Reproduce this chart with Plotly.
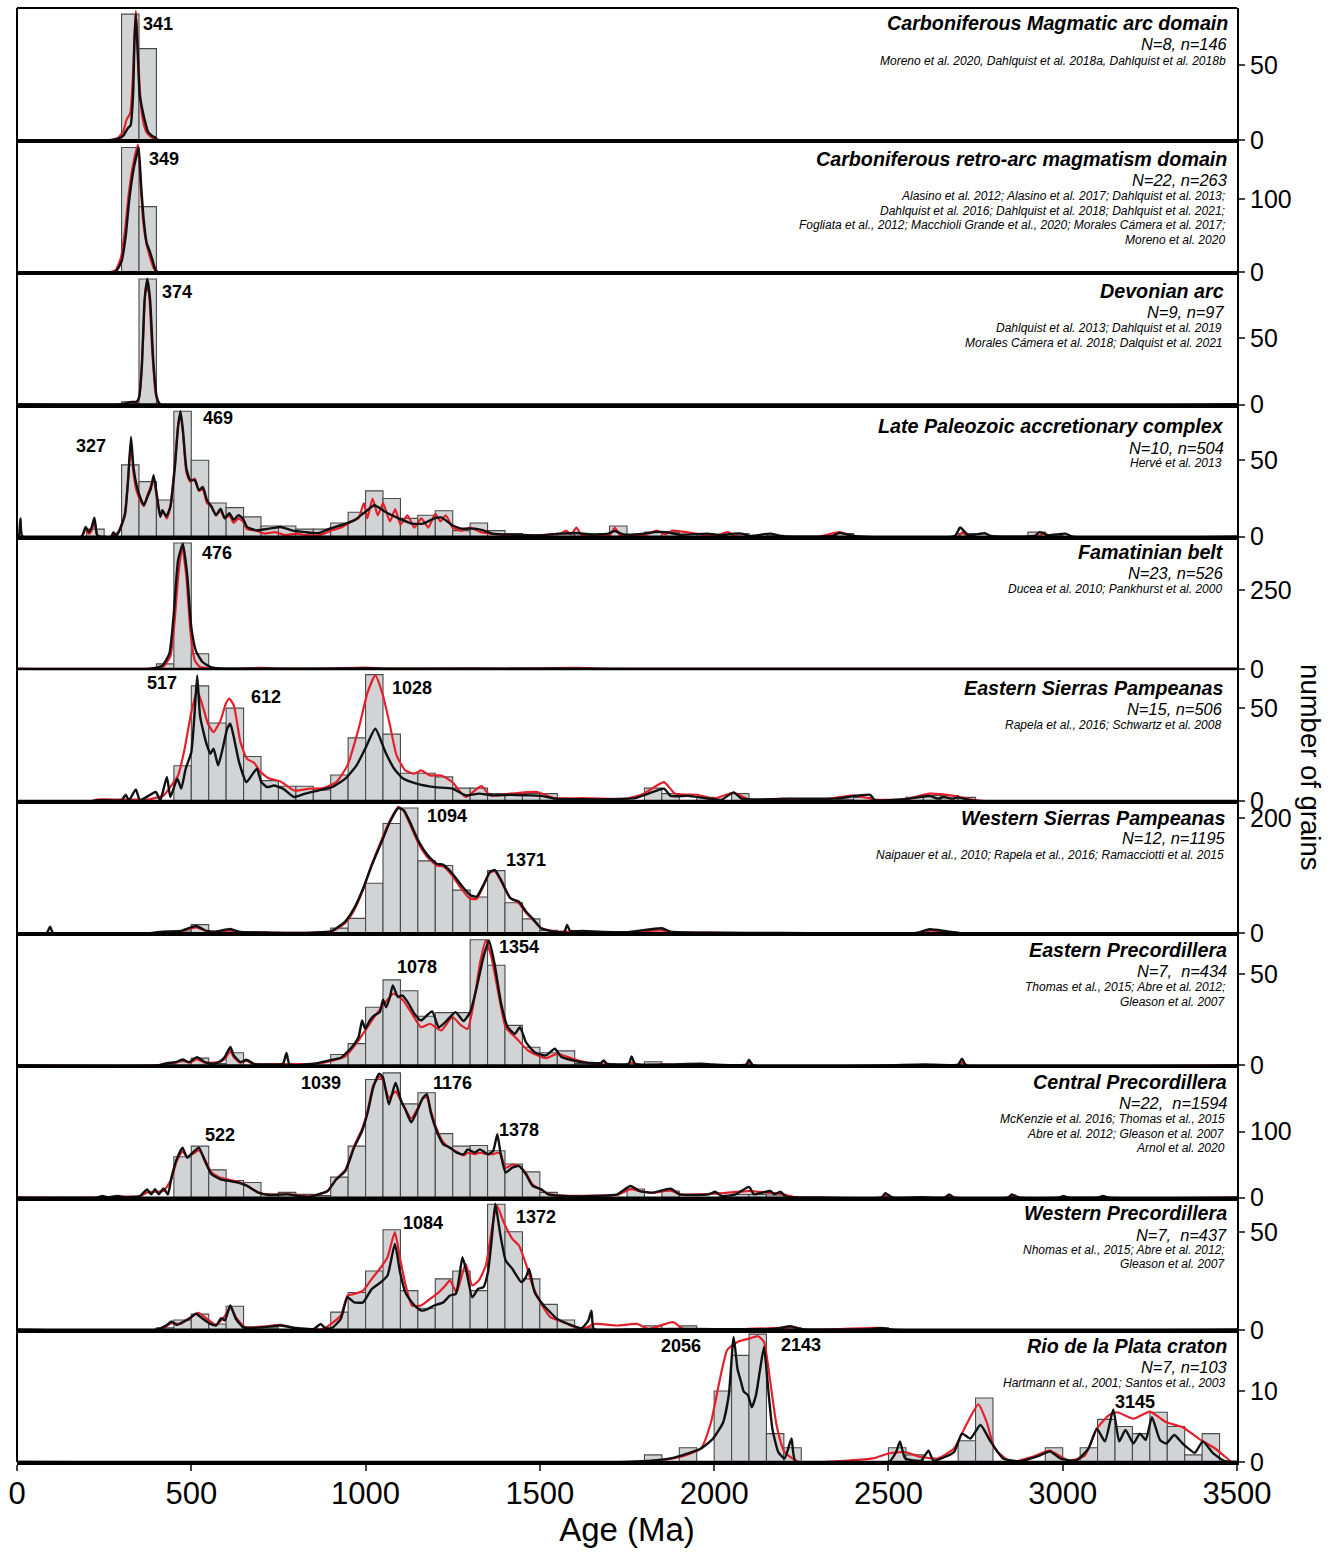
import plotly.graph_objects as go
from plotly.subplots import make_subplots

# ---------------- panel descriptions ----------------
TITLES = [
    "Carboniferous Magmatic arc domain",
    "Carboniferous retro-arc magmatism domain",
    "Devonian arc",
    "Late Paleozoic accretionary complex",
    "Famatinian belt",
    "Eastern Sierras Pampeanas",
    "Western Sierras Pampeanas",
    "Eastern Precordillera",
    "Central Precordillera",
    "Western Precordillera",
    "Rio de la Plata craton",
]
SAMPLE_COUNTS = [
    "N=8, n=146", "N=22, n=263", "N=9, n=97", "N=10, n=504", "N=23, n=526",
    "N=15, n=506", "N=12, n=1195", "N=7,  n=434", "N=22,  n=1594",
    "N=7,  n=437", "N=7, n=103",
]
REFERENCES = [
    ["Moreno et al. 2020, Dahlquist et al. 2018a, Dahlquist et al. 2018b"],
    ["Alasino et al. 2012; Alasino et al. 2017; Dahlquist et al. 2013;",
     "Dahlquist et al. 2016; Dahlquist et al. 2018; Dahlquist et al. 2021;",
     "Fogliata et al., 2012; Macchioli Grande et al., 2020; Morales Cámera et al. 2017;",
     "Moreno et al. 2020"],
    ["Dahlquist et al. 2013; Dahlquist et al. 2019",
     "Morales Cámera et al. 2018; Dalquist et al. 2021"],
    ["Hervé et al. 2013"],
    ["Ducea et al. 2010; Pankhurst et al. 2000"],
    ["Rapela et al., 2016; Schwartz et al. 2008"],
    ["Naipauer et al., 2010; Rapela et al., 2016; Ramacciotti et al. 2015"],
    ["Thomas et al., 2015; Abre et al. 2012;", "Gleason et al. 2007"],
    ["McKenzie et al. 2016; Thomas et al., 2015",
     "Abre et al. 2012; Gleason et al. 2007", "Arnol et al. 2020"],
    ["Nhomas et al., 2015; Abre et al. 2012;", "Gleason et al. 2007"],
    ["Hartmann et al., 2001; Santos et al., 2003"],
]
# labelled peak ages (Ma) per panel
PEAK_AGES = [
    [341], [349], [374], [327, 469], [476], [517, 612, 1028], [1094, 1371],
    [1078, 1354], [1039, 1176, 1378, 522], [1084, 1372], [2056, 2143, 3145],
]

# ---------------- histograms (bin start in Ma, 50 Ma bins) ----------------
BINS_1 = [300, 350]
COUNTS_1 = [84, 61]
BINS_2 = [300, 350]
COUNTS_2 = [171, 90]
BINS_3 = [300, 350]
COUNTS_3 = [2, 95]
BINS_4 = [200, 300, 350, 400, 450, 500, 550, 600, 650, 700, 750, 800, 850, 900,
          950, 1000, 1050, 1100, 1150, 1200, 1250, 1300, 1350, 1400, 1550, 1600,
          1700, 1800, 1850, 1950, 2050, 2150, 2350, 2700, 2900, 2950]
COUNTS_4 = [5, 47, 36, 24, 82, 50, 22, 19, 13, 7, 7, 5, 5, 9,
            16, 30, 25, 12, 14, 17, 4, 9, 4, 2, 2, 2,
            7, 3, 3, 2, 2, 1, 2, 2, 3, 1]
BINS_5 = [400, 450, 500]
COUNTS_5 = [16, 398, 48]
BINS_6 = [450, 500, 550, 600, 650, 700, 750, 800, 850, 900, 950, 1000, 1050, 1100,
          1150, 1200, 1250, 1300, 1350, 1400, 1450, 1500, 1800, 1850, 1950, 2050,
          2150, 2200, 2250, 2350, 2400, 2550, 2600, 2650, 2700]
COUNTS_6 = [19, 62, 42, 50, 24, 11, 8, 8, 6, 14, 34, 68, 36, 15,
            15, 13, 7, 7, 4, 4, 4, 4, 7, 4, 2, 4,
            1, 1, 1, 1, 2, 2, 3, 3, 2]
BINS_7 = [450, 500, 600, 900, 950, 1000, 1050, 1100, 1150, 1200, 1250, 1300, 1350,
          1400, 1450, 1500, 1550, 1850, 2600]
COUNTS_7 = [4, 15, 2, 9, 26, 87, 191, 218, 126, 118, 75, 63, 109,
            53, 25, 5, 2, 2, 2]
BINS_8 = [450, 500, 550, 600, 900, 950, 1000, 1050, 1100, 1150, 1200, 1250, 1300,
          1350, 1400, 1450, 1500, 1550, 1600, 1800]
COUNTS_8 = [2, 4, 1, 7, 6, 12, 32, 47, 41, 27, 29, 29, 69,
            55, 22, 10, 7, 8, 1, 2]
BINS_9 = [450, 500, 550, 600, 650, 700, 750, 800, 850, 900, 950, 1000, 1050, 1100,
          1150, 1200, 1250, 1300, 1350, 1400, 1450, 1500, 1550, 1750, 1850, 2050,
          2100, 2150]
COUNTS_9 = [62, 78, 42, 26, 23, 5, 8, 5, 3, 31, 78, 179, 189, 142,
            159, 97, 78, 79, 71, 51, 39, 8, 3, 13, 10, 5,
            5, 4]
BINS_10 = [400, 450, 500, 550, 600, 650, 700, 900, 950, 1000, 1050, 1100, 1150,
           1200, 1250, 1300, 1350, 1400, 1450, 1500, 1550, 1600, 1800, 1900, 2200, 2450]
COUNTS_10 = [1, 5, 8, 3, 12, 1, 1, 9, 19, 30, 51, 20, 11,
             26, 30, 20, 64, 50, 26, 13, 5, 1, 2, 2, 1, 1]
BINS_11 = [1800, 1900, 2000, 2050, 2100, 2150, 2200, 2500, 2550, 2700, 2750, 2950,
           3050, 3100, 3150, 3200, 3250, 3300, 3350, 3400]
COUNTS_11 = [1, 2, 10, 15, 18, 4, 2, 2, 1, 3, 9, 2,
             2, 6, 5, 4, 7, 5, 1, 4]

# ---------------- density curves: (age Ma, scaled density) ----------------
BLACK_1 = [(0, 0), (270, 0), (290, 1), (305, 3), (318, 8), (326, 10), (333, 30), (337, 66),
           (341, 84), (346, 60), (352, 30), (360, 20), (368, 12), (375, 6), (382, 4),
           (390, 2.5), (396, 2), (402, 0.5), (410, 0), (3500, 0)]
RED_1 = [(0, 0), (260, 0), (290, 1.5), (305, 6), (315, 14), (325, 18), (333, 45), (338, 75),
         (341, 86), (346, 65), (352, 35), (360, 15), (370, 6), (380, 3), (392, 1), (405, 0),
         (3500, 0)]
BLACK_2 = [(0, 0), (270, 0), (285, 2), (300, 15), (312, 50), (322, 99), (334, 140), (343, 160),
           (349, 171), (356, 120), (364, 70), (372, 40), (380, 30), (388, 18), (396, 5),
           (405, 0), (3500, 0)]
RED_2 = [(0, 0), (265, 0), (283, 3), (298, 20), (310, 58), (320, 105), (332, 145), (341, 165),
         (347, 175), (354, 125), (362, 70), (372, 38), (382, 20), (392, 6), (402, 0), (3500, 0)]
BLACK_3 = [(0, 0), (300, 0), (318, 1.5), (330, 2), (342, 2), (350, 5), (358, 28), (366, 79),
           (374, 95), (382, 79), (391, 33), (401, 5.5), (412, 0), (3500, 0)]
RED_3 = [(0, 0), (340, 0), (352, 8), (362, 50), (370, 90), (378, 85), (388, 40), (398, 8),
         (410, 0), (3500, 0)]
BLACK_4 = [(0, 0), (5, 0), (10, 12), (16, 0), (185, 0), (197, 6.4), (206, 3), (214, 6),
           (222, 12.5), (230, 1), (240, 0), (270, 0), (277, 3), (284, 0.5), (292, 3),
           (300, 7.5), (310, 14.7), (318, 34.7), (327, 65.3), (334, 45.6), (343, 33.6),
           (353, 26), (364, 20.6), (374, 26), (384, 31.5), (392, 40.2), (402, 26), (411, 13),
           (417, 17.4), (428, 13.4), (440, 19.5), (453, 45.6), (462, 71.8), (469, 82),
           (476, 69.6), (486, 44.6), (497, 37), (510, 37), (522, 30.4), (533, 32.6),
           (545, 23.9), (558, 19.5), (571, 14), (584, 18.4), (596, 12), (609, 15.3), (622, 11),
           (635, 14), (648, 12), (660, 6.4), (686, 4.2), (724, 5.3), (756, 6.4), (788, 4.2),
           (827, 3), (865, 2.4), (897, 5.3), (929, 7.5), (967, 10.7), (999, 16.2),
           (1025, 20.6), (1057, 16.2), (1095, 12), (1133, 8.6), (1165, 8.6), (1197, 12),
           (1217, 12.6), (1249, 7.5), (1274, 5.3), (1313, 5.3), (1338, 4.2), (1364, 2),
           (1428, 1.3), (1492, 0.9), (1556, 2), (1607, 2.4), (1645, 1.5), (1696, 2),
           (1715, 3.7), (1741, 1.5), (1798, 2), (1830, 3), (1862, 3), (1901, 1.3), (1980, 2),
           (2021, 1), (2056, 2), (2079, 2), (2103, 0.5), (2161, 2), (2196, 0.3), (2340, 0.5),
           (2360, 2.5), (2407, 0.3), (2690, 0.5), (2706, 6), (2729, 1), (2776, 2.3),
           (2794, 0.5), (2920, 0.5), (2934, 3), (2958, 1), (3008, 2), (3028, 0), (3500, 0)]
RED_4 = [(0, 0), (185, 0), (197, 5), (206, 2), (214, 4), (222, 10), (232, 0), (270, 0),
         (290, 3), (300, 8), (310, 16), (318, 36), (327, 60), (334, 42), (343, 30), (353, 24),
         (364, 20), (374, 27), (384, 33), (392, 38), (402, 24), (411, 14), (420, 16),
         (430, 12), (440, 20), (453, 48), (462, 72), (469, 80), (476, 68), (486, 42),
         (497, 36), (510, 38), (522, 30), (533, 31), (545, 22), (558, 20), (571, 14),
         (584, 17), (596, 12), (609, 14), (622, 9), (635, 12), (648, 10), (660, 5), (686, 4),
         (710, 2), (740, 3), (770, 1), (800, 2), (830, 1), (870, 1), (900, 4), (930, 6),
         (960, 10), (980, 12), (995, 22), (1005, 12), (1020, 25), (1035, 14), (1050, 22),
         (1070, 10), (1085, 18), (1100, 8), (1120, 14), (1140, 6), (1160, 12), (1180, 6),
         (1200, 15), (1215, 10), (1230, 14), (1250, 6), (1275, 4), (1300, 6), (1330, 3),
         (1360, 2), (1400, 1), (1450, 0.5), (1500, 1), (1560, 2), (1575, 4), (1590, 1.5),
         (1605, 6), (1620, 1), (1700, 1), (1715, 6), (1730, 1), (1800, 1), (1835, 4),
         (1860, 1.5), (1880, 4), (2000, 0.5), (2040, 3), (2060, 0.5), (2300, 0), (2360, 3),
         (2400, 0), (2700, 0), (2712, 3), (2730, 0), (2930, 0), (2945, 2.5), (2960, 0),
         (3500, 0)]
BLACK_5 = [(0, 0), (379, 0), (417, 11), (437, 48), (449, 164), (462, 343), (476, 396),
           (488, 301), (500, 132), (513, 58), (533, 21), (558, 5), (596, 1), (700, 0.5),
           (1000, 1.5), (1100, 0.5), (1500, 0.5), (2000, 0), (3500, 0)]
RED_5 = [(0, 0), (300, 0), (400, 2), (420, 8), (440, 40), (452, 150), (463, 300), (474, 388),
         (486, 290), (498, 112), (510, 27), (525, 6), (560, 2), (620, 0.5), (700, 3),
         (760, 0.5), (900, 1), (1000, 4), (1060, 0.5), (1300, 2), (1400, 0.5), (1600, 3),
         (1700, 0.5), (2000, 0), (3500, 0)]
BLACK_6 = [(0, 0), (215, 0), (232, 0.5), (300, 0.5), (312, 3.4), (321, 0.4), (341, 6.3),
           (353, 0.4), (398, 4.9), (411, 0.4), (430, 13), (440, 2.2), (460, 12.1), (471, 6.7),
           (484, 17.4), (500, 26.3), (509, 46), (517, 67.6), (525, 46), (535, 37.1),
           (545, 30), (555, 25.5), (564, 28.2), (577, 19.2), (590, 28.2), (603, 38.9),
           (612, 41.6), (622, 34.4), (637, 21), (658, 10.2), (673, 13.8), (688, 17.4),
           (701, 10.2), (718, 7.5), (737, 8.4), (763, 6.7), (795, 2.2), (827, 4), (865, 5.7),
           (903, 7.5), (942, 12.1), (974, 19.2), (999, 28.2), (1028, 38.9), (1057, 26.3),
           (1082, 17.4), (1108, 12.1), (1146, 9.4), (1198, 7.5), (1249, 6.7), (1287, 3.1),
           (1325, 4), (1364, 3.1), (1415, 3.4), (1466, 3.1), (1504, 2.8), (1543, 1.3),
           (1620, 1), (1696, 1), (1773, 1.6), (1811, 4), (1856, 6.7), (1875, 2.8),
           (1926, 2.8), (1974, 1.6), (2021, 0.7), (2056, 4.7), (2079, 1.3), (2173, 1),
           (2214, 1.3), (2348, 1.3), (2448, 3.4), (2460, 0.5), (2547, 1), (2618, 2.7),
           (2641, 1.3), (2659, 2.2), (2682, 1.3), (2700, 2), (2735, 0.5), (2758, 0), (3500, 0)]
RED_6 = [(0, 0), (215, 0), (230, 0.8), (300, 0.8), (380, 1), (420, 3), (443, 8.4),
         (462, 13.8), (481, 28.2), (500, 47.8), (517, 59.5), (532, 51.5), (548, 41.6),
         (564, 37.1), (584, 43.4), (599, 52.4), (609, 55.1), (622, 51.5), (641, 31.7),
         (660, 22.7), (680, 20.6), (699, 15.6), (724, 12.1), (756, 10.6), (795, 5.7),
         (839, 6.7), (878, 7), (916, 10.2), (948, 19.2), (980, 38.9), (1006, 58.6),
         (1028, 67.6), (1050, 56.8), (1070, 40.7), (1089, 24.6), (1114, 16.5), (1140, 14.7),
         (1159, 16.5), (1185, 13.8), (1217, 13.8), (1249, 10.2), (1287, 2.2), (1332, 8),
         (1357, 3.1), (1415, 4), (1492, 4.9), (1543, 1.6), (1620, 1.6), (1747, 1.3),
         (1798, 4), (1856, 10.2), (1888, 4), (1952, 3.4), (1997, 1.3), (2056, 4.4),
         (2103, 0.7), (2196, 1.3), (2300, 0.5), (2401, 3.1), (2465, 0.7), (2550, 1),
         (2618, 4), (2688, 2.8), (2747, 0.5), (2780, 0), (3500, 0)]
BLACK_7 = [(0, 0), (85, 0), (95, 11.6), (104, 0), (380, 0), (417, 2.9), (469, 3.9),
           (513, 12.7), (545, 3.9), (571, 2.9), (612, 7.5), (635, 2.9), (724, 1.2), (852, 1.2),
           (903, 3.9), (942, 20.8), (967, 43.2), (993, 78), (1018, 118.8), (1044, 156),
           (1070, 194), (1094, 218), (1110, 214), (1127, 194), (1153, 159), (1178, 136),
           (1204, 121), (1223, 119), (1249, 104), (1274, 84), (1300, 66.7), (1319, 63.8),
           (1338, 84), (1357, 107), (1371, 110), (1389, 92.4), (1415, 61), (1440, 55),
           (1460, 38), (1479, 26), (1504, 8.7), (1543, 2.9), (1570, 2), (1578, 14.5),
           (1587, 4), (1620, 4), (1747, 1.7), (1850, 8.7), (1875, 2.9), (2000, 1), (2200, 0.5),
           (2580, 0.5), (2618, 7), (2665, 3.5), (2712, 0), (3500, 0)]
RED_7 = [(0, 0), (380, 0), (417, 2), (469, 3), (513, 10), (545, 3.5), (571, 2.5), (612, 5),
         (635, 2.5), (724, 1), (852, 1), (903, 3), (942, 18), (967, 40), (993, 76),
         (1018, 120), (1044, 160), (1070, 196), (1094, 220), (1110, 212), (1127, 190),
         (1153, 155), (1178, 132), (1204, 118), (1223, 116), (1249, 100), (1274, 78),
         (1300, 60), (1319, 60), (1338, 82), (1357, 106), (1371, 108), (1389, 90), (1415, 62),
         (1440, 52), (1460, 36), (1479, 24), (1504, 9), (1543, 3), (1587, 3), (1620, 2.5),
         (1747, 1.5), (1850, 5), (1875, 2), (2000, 1), (2580, 0.5), (2618, 5), (2665, 3),
         (2712, 0), (3500, 0)]
BLACK_8 = [(0, 0), (405, 0), (430, 1.3), (456, 1.8), (475, 3.3), (494, 1.8), (516, 4.6),
           (539, 1.8), (564, 0.9), (584, 2.4), (596, 4.6), (612, 10.1), (622, 5.5), (641, 1.8),
           (658, 3.1), (680, 0.9), (724, 0.5), (763, 0.9), (773, 6.8), (782, 0.5), (852, 0.9),
           (903, 3.1), (929, 4.2), (942, 6.4), (961, 10.1), (980, 15.6), (990, 24.7),
           (999, 20.1), (1012, 24.7), (1025, 27.5), (1041, 29.3), (1050, 36.1), (1059, 32),
           (1070, 37.6), (1078, 44), (1093, 37.6), (1105, 38.5), (1121, 34.8), (1140, 28.4),
           (1159, 24.7), (1176, 27.5), (1191, 29.7), (1210, 21), (1229, 23.8), (1258, 29.3),
           (1281, 24.4), (1300, 29.3), (1319, 43), (1338, 59.5), (1354, 68.7), (1370, 55.9),
           (1389, 33.9), (1408, 21), (1428, 17.4), (1443, 21), (1460, 12.8), (1485, 7.3),
           (1517, 5.5), (1543, 9.2), (1562, 4.6), (1620, 1.8), (1675, 1.3), (1683, 2.7),
           (1692, 1), (1755, 1), (1763, 5), (1773, 0.9), (1850, 0.5), (1962, 0.9),
           (1997, 0.5), (2092, 0.5), (2100, 3.1), (2112, 0), (2606, 0.5), (2700, 0.5),
           (2711, 3.7), (2723, 0), (3500, 0)]
RED_8 = [(0, 0), (400, 0), (430, 1), (456, 1.5), (475, 2.8), (494, 1.5), (516, 3.5),
         (539, 1.5), (584, 2), (596, 3.5), (612, 8), (622, 4.5), (641, 1.5), (658, 2.5),
         (680, 0.8), (763, 0.8), (852, 0.8), (903, 2.5), (942, 5), (980, 13.8), (999, 19.2),
         (1025, 26.6), (1057, 34.8), (1080, 39.4), (1108, 35.7), (1133, 28.4), (1159, 21),
         (1185, 22.9), (1217, 19.2), (1249, 26.6), (1274, 22), (1293, 20.1), (1313, 37.6),
         (1328, 55.9), (1345, 68.7), (1361, 59.5), (1383, 37.6), (1402, 21), (1434, 14.7),
         (1466, 8.2), (1517, 4), (1549, 6.4), (1594, 3.7), (1650, 1), (1750, 0.5), (1763, 1.5),
         (1780, 0.3), (1850, 0.5), (2000, 0), (2088, 0), (2100, 1.5), (2115, 0), (2698, 0),
         (2711, 1.5), (2725, 0), (3500, 0)]
BLACK_9 = [(0, 0), (230, 0), (245, 2.5), (260, 0.5), (289, 2.5), (310, 0.5), (353, 2.5),
           (373, 12.6), (385, 5), (396, 12.6), (407, 5), (420, 14), (433, 5), (443, 30.3),
           (458, 58), (475, 75.8), (488, 60.6), (504, 68.2), (522, 75.8), (539, 55.6),
           (558, 35.4), (584, 27.8), (609, 25.3), (635, 22.7), (660, 17.7), (692, 7.6),
           (724, 4), (775, 5), (833, 1), (865, 5), (891, 10), (916, 27.8), (942, 40.4),
           (967, 75.8), (990, 101), (1006, 129), (1022, 167), (1039, 188), (1050, 182),
           (1067, 141.4), (1086, 174), (1102, 146.5), (1114, 134), (1131, 114), (1146, 129),
           (1165, 151.5), (1176, 156.6), (1187, 129), (1204, 101), (1223, 80.8), (1242, 75.8),
           (1261, 68.2), (1281, 65.6), (1293, 73.2), (1313, 68.2), (1328, 73.2), (1351, 65.6),
           (1366, 70.7), (1378, 96), (1387, 68.2), (1402, 37.9), (1421, 45.5), (1440, 48),
           (1460, 35.4), (1479, 17.7), (1504, 12.6), (1524, 5), (1568, 2.5), (1658, 2.5),
           (1722, 5), (1760, 17.7), (1786, 10), (1824, 7.6), (1875, 13.6), (1901, 5),
           (1985, 5), (2003, 9), (2021, 2.5), (2062, 5), (2100, 16.2), (2114, 5), (2138, 7.6),
           (2161, 10), (2173, 5), (2190, 9), (2208, 1), (2313, 0), (2480, 0), (2491, 6.6),
           (2512, 0), (2594, 0.5), (2662, 0), (2674, 5), (2688, 0), (2845, 0), (2854, 5),
           (2875, 0), (2990, 0), (3002, 2.5), (3015, 0), (3102, 0), (3115, 2.5), (3130, 0),
           (3500, 0)]
RED_9 = [(0, 0), (230, 0), (289, 1.5), (353, 2), (373, 8), (396, 9), (420, 10), (443, 28),
         (458, 55), (475, 70), (488, 62), (504, 66), (522, 72), (539, 58), (558, 38),
         (584, 30), (609, 27), (635, 24), (660, 18), (692, 8), (724, 4.5), (775, 5.5),
         (833, 2), (865, 5), (891, 10), (916, 28), (942, 42), (967, 78), (990, 104),
         (1006, 132), (1022, 170), (1039, 183), (1050, 178), (1067, 151), (1086, 161),
         (1102, 146), (1114, 134), (1131, 120), (1146, 132), (1165, 151), (1176, 152),
         (1187, 132), (1204, 104), (1223, 84), (1242, 75), (1261, 70), (1281, 64), (1293, 68),
         (1313, 66), (1328, 68), (1351, 66), (1366, 66), (1378, 68), (1387, 66), (1402, 45),
         (1421, 50), (1440, 48), (1460, 37), (1479, 20), (1504, 12), (1524, 6), (1568, 3),
         (1658, 3), (1722, 4), (1760, 13), (1786, 10), (1824, 7), (1875, 11), (1901, 5),
         (2003, 6), (2100, 10), (2161, 7), (2190, 6), (2230, 1), (2300, 0), (2478, 0),
         (2491, 3), (2505, 0), (2660, 0), (2674, 3), (2690, 0), (2840, 0), (2854, 3),
         (2870, 0), (2988, 0), (3002, 2), (3016, 0), (3100, 0), (3115, 2), (3130, 0), (3500, 0)]
BLACK_10 = [(0, 0), (398, 0), (428, 2.2), (443, 4.3), (458, 2.5), (475, 3.9), (494, 5.6),
            (513, 8.2), (533, 5.6), (555, 3), (571, 2.2), (586, 5.9), (596, 4.7), (612, 12.4),
            (628, 5.6), (648, 1.4), (673, 0.9), (711, 1.4), (756, 2.2), (801, 0.9), (852, 0.5),
            (871, 3), (884, 0.9), (903, 0.9), (929, 5.6), (948, 16.6), (967, 14), (993, 14),
            (1018, 20.9), (1044, 24.3), (1063, 27.7), (1084, 43.8), (1099, 29.3), (1114, 19.1),
            (1133, 14), (1146, 11.5), (1161, 9.8), (1178, 10.6), (1197, 12.4), (1223, 14),
            (1242, 17.5), (1259, 18.3), (1268, 26), (1278, 37), (1290, 29.3), (1306, 16.6),
            (1323, 20.9), (1338, 21.8), (1351, 29.3), (1362, 46.4), (1372, 64.3), (1387, 48.1),
            (1402, 35.4), (1421, 31.1), (1447, 24.3), (1460, 26.9), (1469, 31.1), (1485, 19.1),
            (1511, 12.4), (1530, 8.9), (1549, 5.6), (1581, 3), (1620, 0.9), (1639, 4.7),
            (1648, 9.8), (1655, 0.5), (1747, 0.2), (1875, 0.5), (2000, 0.3), (2173, 0.5),
            (2220, 1.8), (2249, 0.3), (2448, 0.3), (2480, 1), (2512, 0), (3500, 0)]
RED_10 = [(0, 0), (400, 0), (417, 0.5), (443, 3.4), (469, 3), (494, 5.9), (520, 8.7),
          (545, 5.6), (571, 2.5), (596, 7), (612, 11.5), (628, 6.5), (654, 1.4), (711, 1.7),
          (756, 2.5), (801, 0.5), (878, 0.5), (929, 7.3), (948, 17.5), (967, 18.3), (993, 20),
          (1018, 26), (1044, 31.9), (1063, 37), (1084, 49.8), (1099, 36.2), (1114, 23.5),
          (1133, 12.4), (1159, 12.4), (1185, 15.8), (1210, 19.1), (1229, 22.6), (1242, 25.2),
          (1261, 19.1), (1287, 33.6), (1306, 22.6), (1325, 25.2), (1345, 32.8), (1364, 53.2),
          (1377, 63.4), (1396, 54.9), (1421, 46.4), (1440, 43), (1460, 33.6), (1479, 22.6),
          (1504, 13.3), (1530, 6.5), (1568, 3.9), (1620, 0.2), (1658, 3), (1722, 2.2),
          (1779, 3), (1811, 0.5), (1882, 3.9), (1914, 0.3), (2190, 1), (2230, 1.3), (2260, 0),
          (2470, 1), (2510, 0), (3500, 0)]
BLACK_11 = [(0, 0), (1747, 0), (1875, 0.5), (1962, 1.9), (1997, 3.3), (2026, 5.6), (2042, 9.4),
            (2056, 17.6), (2067, 13.1), (2077, 11.3), (2085, 9.9), (2097, 9.4), (2108, 7.7),
            (2120, 9.4), (2132, 13.1), (2143, 16.2), (2155, 10.3), (2167, 4.7), (2184, 1.4),
            (2202, 0.5), (2222, 3.3), (2234, 0), (2501, 0), (2522, 1.4), (2533, 2.9),
            (2548, 0.5), (2594, 0.2), (2615, 1.6), (2629, 0.2), (2688, 1.4), (2711, 4),
            (2735, 3.3), (2764, 5.2), (2793, 2.9), (2829, 0.5), (2875, 0.1), (2934, 0.9),
            (2963, 1.5), (2993, 0.5), (3039, 0.2), (3074, 1.9), (3098, 4.7), (3121, 2.9),
            (3145, 7.4), (3162, 2.9), (3180, 4.5), (3203, 2.6), (3221, 4), (3238, 3.1),
            (3256, 6.3), (3279, 3.1), (3297, 2.6), (3320, 3.8), (3344, 2.6), (3379, 1.3),
            (3402, 2.9), (3432, 1.2), (3461, 0.2), (3478, 0), (3500, 0)]
RED_11 = [(0, 0), (1747, 0), (1837, 0.2), (1901, 0.7), (1962, 1.9), (1991, 5.6), (2015, 11.3),
          (2038, 15.8), (2067, 16.9), (2103, 17.4), (2126, 17.7), (2143, 16.9), (2161, 11.3),
          (2179, 5.2), (2202, 1.4), (2243, 0), (2313, 0), (2454, 0.5), (2501, 1.2),
          (2548, 1.4), (2594, 0.7), (2641, 0.5), (2688, 1.9), (2723, 5.2), (2758, 8.1),
          (2782, 5.6), (2805, 1.9), (2852, 0), (2911, 0.7), (2963, 1.6), (3016, 0.2),
          (3063, 0.9), (3098, 4.7), (3133, 6.6), (3156, 7), (3203, 6.1), (3250, 7.1),
          (3297, 5.6), (3344, 4.9), (3390, 3.3), (3437, 1.9), (3472, 0.5), (3484, 0), (3500, 0)]

BINS = [BINS_1, BINS_2, BINS_3, BINS_4, BINS_5, BINS_6, BINS_7, BINS_8, BINS_9, BINS_10, BINS_11]
COUNTS = [COUNTS_1, COUNTS_2, COUNTS_3, COUNTS_4, COUNTS_5, COUNTS_6, COUNTS_7, COUNTS_8,
          COUNTS_9, COUNTS_10, COUNTS_11]
BLACK = [BLACK_1, BLACK_2, BLACK_3, BLACK_4, BLACK_5, BLACK_6, BLACK_7, BLACK_8, BLACK_9,
         BLACK_10, BLACK_11]
RED = [RED_1, RED_2, RED_3, RED_4, RED_5, RED_6, RED_7, RED_8, RED_9, RED_10, RED_11]

# ---------------- axis scales and layout settings ----------------
Y_MAX = [88.1, 181, 100, 86.4, 418, 71.1, 230, 72.6, 200.3, 67.4, 18.6]
Y_TICK = [50, 100, 50, 50, 250, 50, 200, 50, 100, 50, 10]
AGE_TICKS = [0, 500, 1000, 1500, 2000, 2500, 3000, 3500]

# pixel offsets of text blocks from the panel top: title, N/n line, first ref line
TEXT_OFFSETS = [(15, 36, 53), (19, 40, 56), (19, 40, 56), (21, 43, 58), (15, 36, 52),
                (19, 40, 56), (17, 37, 54), (17, 38, 54), (17, 38, 54), (15, 37, 52),
                (16, 37, 53)]
TEXT_RIGHT = [1230, 1229, 1226, 1226, 1226, 1225, 1228, 1229, 1229, 1229, 1229]
REF_LINE_GAP = 14.5
# peak label placement (age, density) in each panel
LABEL_XY = [
    [(405, 77.5)], [(422, 155)], [(458, 85.4)], [(211, 59.2), (577, 77.3)], [(575, 365)],
    [(416, 63.4), (713, 55.9), (1134, 60.8)], [(1233, 203.6), (1461, 127.5)],
    [(1147, 54.2), (1440, 65)], [(873, 173.5), (1249, 173.5), (1440, 102), (582, 95.5)],
    [(1165, 54.5), (1488, 57.4)], [(1905, 16.3), (2249, 16.5), (3206, 8.4)],
]

FONT = "Liberation Sans, Arial, Helvetica, sans-serif"
BAR_FILL = "#d2d3d5"
BAR_EDGE = "#4a4a4a"
RED_COLOR = "#e3202c"
BLACK_COLOR = "#111111"

W, H = 1341, 1553
ML, MR, MT, MB = 15, 104, 8, 91
NPANEL = len(TITLES)

fig = make_subplots(rows=NPANEL, cols=1, shared_xaxes=True, vertical_spacing=0)

for i in range(NPANEL):
    r = i + 1
    fig.add_trace(go.Bar(x=BINS[i], y=COUNTS[i], width=50, offset=0,
                         marker=dict(color=BAR_FILL, line=dict(color=BAR_EDGE, width=1.1)),
                         showlegend=False, hoverinfo="skip"), row=r, col=1)
    rx, ry = zip(*RED[i])
    fig.add_trace(go.Scatter(x=rx, y=ry, mode="lines",
                             line=dict(color=RED_COLOR, width=2.2, shape="spline", smoothing=0.5),
                             showlegend=False, hoverinfo="skip"), row=r, col=1)
    bx, by = zip(*BLACK[i])
    fig.add_trace(go.Scatter(x=bx, y=by, mode="lines",
                             line=dict(color=BLACK_COLOR, width=2.4, shape="spline", smoothing=0.5),
                             showlegend=False, hoverinfo="skip"), row=r, col=1)

    last = (r == NPANEL)
    fig.update_xaxes(range=[0, 3500], showgrid=False, zeroline=False,
                     showline=True, linecolor="black", linewidth=2.5,
                     ticks="outside" if last else "", ticklen=6, tickwidth=1.5,
                     tickvals=AGE_TICKS, showticklabels=last,
                     tickfont=dict(family=FONT, size=31, color="black"),
                     row=r, col=1)
    fig.update_yaxes(range=[0, Y_MAX[i]], side="right", showgrid=False, zeroline=False,
                     showline=True, linecolor="black", linewidth=2,
                     ticks="outside", ticklen=6, tickwidth=1.5,
                     tickvals=[0, Y_TICK[i]],
                     tickfont=dict(family=FONT, size=25, color="black"),
                     row=r, col=1)

    yd = "y domain" if r == 1 else f"y{r} domain"
    xr = "x" if r == 1 else f"x{r}"
    yr = "y" if r == 1 else f"y{r}"
    xs = TEXT_RIGHT[i] - (W - MR)
    t_off, n_off, ref_off = TEXT_OFFSETS[i]
    fig.add_annotation(xref="paper", yref=yd, x=1, y=1, xanchor="right", yanchor="middle",
                       xshift=xs, yshift=-t_off, showarrow=False,
                       text=f"<b><i>{TITLES[i]}</i></b>",
                       font=dict(family=FONT, size=19.7, color="black"))
    fig.add_annotation(xref="paper", yref=yd, x=1, y=1, xanchor="right", yanchor="middle",
                       xshift=xs, yshift=-n_off, showarrow=False,
                       text=f"<i>{SAMPLE_COUNTS[i]}</i>",
                       font=dict(family=FONT, size=16.4, color="black"))
    for k, line in enumerate(REFERENCES[i]):
        fig.add_annotation(xref="paper", yref=yd, x=1, y=1, xanchor="right", yanchor="middle",
                           xshift=xs - 2, yshift=-(ref_off + k * REF_LINE_GAP), showarrow=False,
                           text=f"<i>{line}</i>",
                           font=dict(family=FONT, size=12, color="black"))
    for age, (lx, ly) in zip(PEAK_AGES[i], LABEL_XY[i]):
        fig.add_annotation(xref=xr, yref=yr, x=lx, y=ly, xanchor="center", yanchor="middle",
                           showarrow=False, text=f"<b>{age}</b>",
                           font=dict(family=FONT, size=18, color="black"))

    # heavy separator along the bottom of each panel
    fig.add_shape(type="line", xref="paper", yref=yd, x0=0, x1=1, y0=0, y1=0,
                  line=dict(color="black", width=2.5), layer="above")

fig.update_xaxes(ticklabelstandoff=-4,
                 title=dict(text="Age (Ma)", font=dict(family=FONT, size=33, color="black"),
                            standoff=8), row=NPANEL, col=1)

# vertical axis caption shared by all panels
fig.add_annotation(xref="paper", yref="paper", x=(1311 - ML) / (W - ML - MR),
                   y=(H - MB - 767) / (H - MT - MB), xanchor="center", yanchor="middle",
                   textangle=90, showarrow=False,
                   text="number of grains", font=dict(family=FONT, size=27.5, color="black"))

# outer frame: left edge and top edge
fig.add_shape(type="line", xref="paper", yref="paper", x0=0, x1=0, y0=0, y1=1,
              line=dict(color="black", width=2))
fig.add_shape(type="line", xref="paper", yref="paper", x0=0, x1=1, y0=1, y1=1,
              line=dict(color="black", width=2))

fig.update_layout(width=W, height=H, margin=dict(l=ML, r=MR, t=MT, b=MB),
                  plot_bgcolor="white", paper_bgcolor="white", barmode="overlay",
                  font=dict(family=FONT, color="black"))

fig.write_html("out.html")
